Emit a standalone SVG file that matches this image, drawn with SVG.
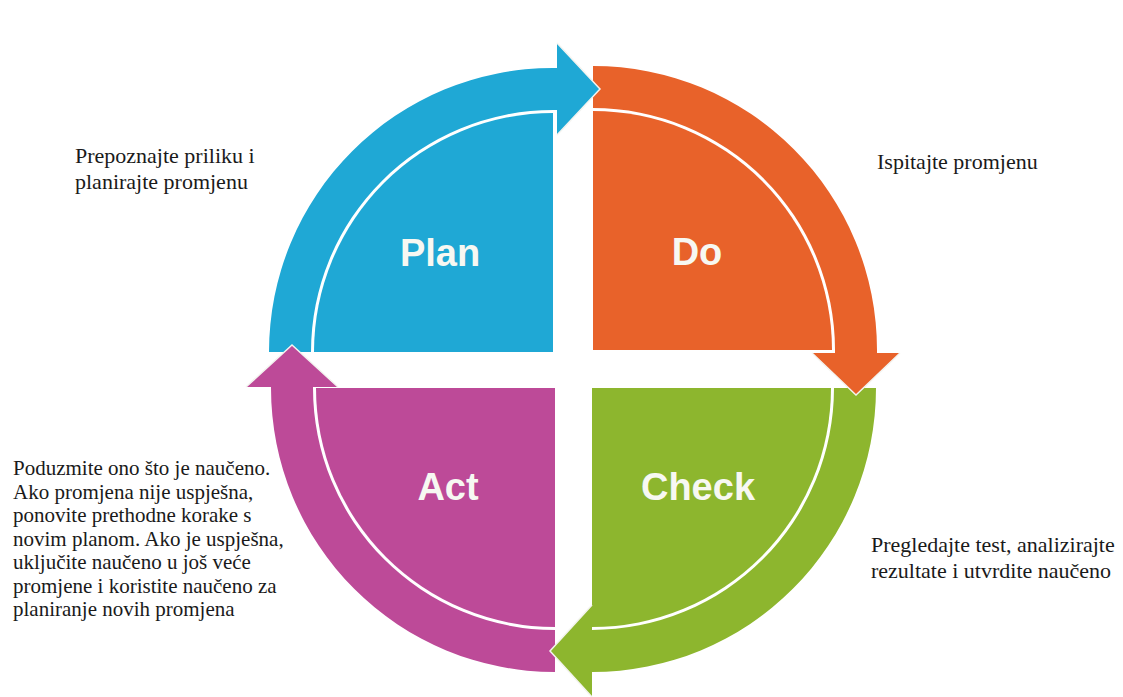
<svg xmlns="http://www.w3.org/2000/svg" width="1123" height="697" viewBox="0 0 1123 697">
<style>
  .q { stroke: none; }
  .lbl { font-family: "Liberation Sans", Arial, sans-serif; font-weight: bold; font-size: 38px; fill: #F7F8F2; text-anchor: middle; }
  .note { font-family: "Liberation Serif", "Times New Roman", serif; font-size: 22px; fill: #1a1a1a; }
  .note2 { font-family: "Liberation Serif", "Times New Roman", serif; font-size: 21px; fill: #1a1a1a; }
  .tip { stroke: #F4F4F0; stroke-width: 1.5; stroke-linejoin: miter; }
  .blue { fill: #1FA8D5; }
  .orange { fill: #E8622A; }
  .green { fill: #8DB62E; }
  .magenta { fill: #BD4A98; }
</style>
<rect width="1123" height="697" fill="#ffffff"/>

<g id="node-plan">
  <path class="q blue" d="M553,352 L314,352 A239,239 0 0,1 553,113 Z"/>
  <text class="lbl" x="440" y="266">Plan</text>
  <text class="note" x="75" y="163">Prepoznajte priliku i</text>
  <text class="note" x="75" y="189">planirajte promjenu</text>
</g>

<g id="node-do">
  <path class="q orange" d="M593,350 L593,111 A239,239 0 0,1 832,350 Z"/>
  <text class="lbl" x="697" y="265">Do</text>
  <text class="note" x="877" y="169">Ispitajte promjenu</text>
</g>

<g id="node-check">
  <path class="q green" d="M592,388 L831,388 A239,239 0 0,1 592,627 Z"/>
  <text class="lbl" x="698" y="500">Check</text>
  <text class="note" x="871" y="552">Pregledajte test, analizirajte</text>
  <text class="note" x="871" y="578">rezultate i utvrdite naučeno</text>
</g>

<g id="node-act">
  <path class="q magenta" d="M555,388 L555,627 A239,239 0 0,1 316,388 Z"/>
  <text class="lbl" x="448" y="500">Act</text>
  <text class="note2" x="13" y="475">Poduzmite ono što je naučeno.</text>
  <text class="note2" x="13" y="498.5">Ako promjena nije uspješna,</text>
  <text class="note2" x="13" y="522">ponovite prethodne korake s</text>
  <text class="note2" x="13" y="545.5">novim planom. Ako je uspješna,</text>
  <text class="note2" x="13" y="569">uključite naučeno u još veće</text>
  <text class="note2" x="13" y="592.5">promjene i koristite naučeno za</text>
  <text class="note2" x="13" y="616">planiranje novih promjena</text>
</g>

<g id="connectors">
  <path id="arrow-plan-do" class="blue" d="M269,352 A284,284 0 0,1 553,68 L557,68 L557,43 L600,89 L557,135 L557,110 L553,110 A242,242 0 0,0 311,352 Z"/>
  <path id="arrow-do-check" class="orange" d="M593,66 A284,284 0 0,1 877,350 L877,353 L900,353 L856,395 L812,353 L835,353 L835,350 A242,242 0 0,0 593,108 Z"/>
  <path id="arrow-check-act" class="green" d="M876,388 A284,284 0 0,1 592,672 L592,697 L550,651 L592,605 L592,630 A242,242 0 0,0 834,388 Z"/>
  <path id="arrow-act-plan" class="magenta" d="M555,672 A284,284 0 0,1 271,388 L271,387 L246,387 L292,345 L338,387 L313,387 L313,388 A242,242 0 0,0 555,630 Z"/>
  <g id="tips">
    <polyline class="blue tip" points="557,43 600,89 557,135"/>
    <polyline class="orange tip" points="900,353 856,395 812,353"/>
    <polyline class="green tip" points="592,697 550,651 592,605"/>
    <polyline class="magenta tip" points="246,387 292,345 338,387"/>
  </g>
</g>
</svg>
